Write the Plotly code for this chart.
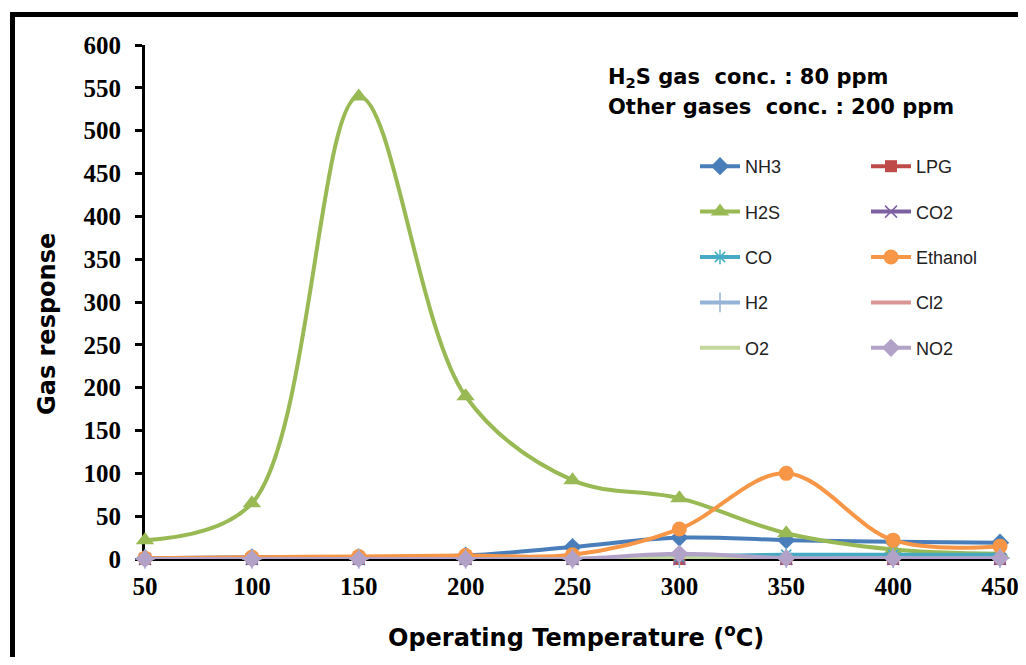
import plotly.graph_objects as go

temps = [50, 100, 150, 200, 250, 300, 350, 400, 450]
nh3 = [1, 2, 2, 4, 14, 25, 22, 20, 19]
lpg = [0, 0, 0, 0, 0, 0, 0, 0, 0]
h2s = [22, 65, 540, 190, 92, 71, 30, 11, 6]
co2 = [0, 0, 0, 0, 0, 0, 0, 0, 0]
co = [0, 0, 0, 0, 0, 3, 5, 5, 5]
ethanol = [1, 2, 3, 4, 5, 35, 100, 22, 15]
h2 = [0, 0, 0, 0, 0, 1, 1, 1, 1]
cl2 = [0, 0, 0, 0, 0, 0, 0, 0, 0]
o2 = [0, 0, 0, 0, 0, 1, 0, 0, 0]
no2 = [0, 0, 0, 0, 0, 6, 1, 1, 1]
x_ticks = [50, 100, 150, 200, 250, 300, 350, 400, 450]
y_ticks = [0, 50, 100, 150, 200, 250, 300, 350, 400, 450, 500, 550, 600]

series = [
    ("NH3", nh3, "#4A7EBB", "diamond", 14, "legend"),
    ("LPG", lpg, "#BE4B48", "square", 12, "legend2"),
    ("H2S", h2s, "#98B954", "triangle-up", 16, "legend"),
    ("CO2", co2, "#7D60A0", "x-thin", 12, "legend2"),
    ("CO", co, "#46AAC5", "asterisk", 12, "legend"),
    ("Ethanol", ethanol, "#F79646", "circle", 15, "legend2"),
    ("H2", h2, "#95B3D7", "cross-thin", 14, "legend"),
    ("Cl2", cl2, "#D99694", None, 0, "legend2"),
    ("O2", o2, "#C3D69B", None, 0, "legend"),
    ("NO2", no2, "#B3A2C7", "diamond", 14, "legend2"),
]

fig = go.Figure()
for name, vals, color, sym, size, leg in series:
    if sym is None:
        mode = "lines"
        marker = dict()
    else:
        mode = "lines+markers"
        if sym.endswith("-thin") or sym == "asterisk":
            marker = dict(symbol=sym, size=size, color=color,
                          line=dict(color=color, width=1.5))
        else:
            marker = dict(symbol=sym, size=size, color=color)
    fig.add_trace(go.Scatter(
        x=temps, y=vals, name=name, mode=mode,
        line=dict(color=color, width=4, shape="spline", smoothing=1.0),
        marker=marker, cliponaxis=False, legend=leg, legendgroup=name,
    ))

# page has an 8px body margin: work in page coordinates, convert to figure coords
OFF = 8
W, H = 1010, 649
PL, PR, PT, PB = 145, 1000, 45, 559  # plot area in page coords
L = PL - OFF
T = PT - OFF
R = W - (PR - OFF)
B = H - (PB - OFF)
pw = PR - PL
ph = PB - PT

def px(x):
    return (x - PL) / pw

def py(y):
    return (PB - y) / ph

leg_common = dict(
    font=dict(family="Liberation Sans, Arial", size=18, color="#222"),
    bgcolor="rgba(0,0,0,0)", tracegroupgap=19, xanchor="left", yanchor="top",
    itemwidth=40,
)

title_font = dict(family="DejaVu Sans, Verdana", size=24, color="black", weight="bold")
note_font = dict(family="DejaVu Sans, Verdana", size=21, color="black", weight="bold")
tick_font = dict(family="Liberation Serif, Times New Roman", size=25,
                 color="black", weight="bold")

fig.update_layout(
    width=W, height=H,
    margin=dict(l=L, r=R, t=T, b=B),
    paper_bgcolor="white", plot_bgcolor="white",
    showlegend=True,
    legend=dict(x=px(695), y=py(148), **leg_common),
    legend2=dict(x=px(866), y=py(148), **leg_common),
    xaxis=dict(
        range=[50, 450], tickvals=x_ticks, ticktext=[str(v) for v in x_ticks],
        showgrid=False, zeroline=False, showline=True, linecolor="black",
        linewidth=2, ticks="", layer="below traces", ticklabelstandoff=4,
        ticklabeloverflow="allow", automargin=False,
        tickfont=tick_font,
    ),
    yaxis=dict(
        range=[0, 600], tickvals=y_ticks, ticktext=[str(v) for v in y_ticks],
        showgrid=False, zeroline=False, showline=True, linecolor="black",
        linewidth=3, ticks="outside", ticklen=7, tickwidth=2.5, tickcolor="black",
        layer="below traces", ticklabelstandoff=9, automargin=False,
        tickfont=tick_font,
    ),
    shapes=[dict(type="rect", xref="paper", yref="paper",
                 x0=px(12.5), x1=px(1100), y0=py(800), y1=py(14.5),
                 line=dict(color="black", width=5), fillcolor="rgba(0,0,0,0)")],
    annotations=[
        dict(text="H<sub>2</sub>S gas  conc. : 80 ppm", xref="paper", yref="paper",
             x=px(606), y=py(78), xanchor="left", yanchor="middle", showarrow=False,
             font=note_font),
        dict(text="Other gases  conc. : 200 ppm", xref="paper", yref="paper",
             x=px(606), y=py(107), xanchor="left", yanchor="middle", showarrow=False,
             font=note_font),
        dict(text="Gas response", xref="paper", yref="paper", textangle=-90,
             x=px(47), y=py(324), xanchor="center", yanchor="middle", showarrow=False,
             font=title_font),
        dict(text="Operating Temperature (<sup>o</sup>C)", xref="paper", yref="paper",
             x=px(576), y=py(636), xanchor="center", yanchor="middle", showarrow=False,
             font=title_font),
    ],
)

fig.write_html("out.html")
